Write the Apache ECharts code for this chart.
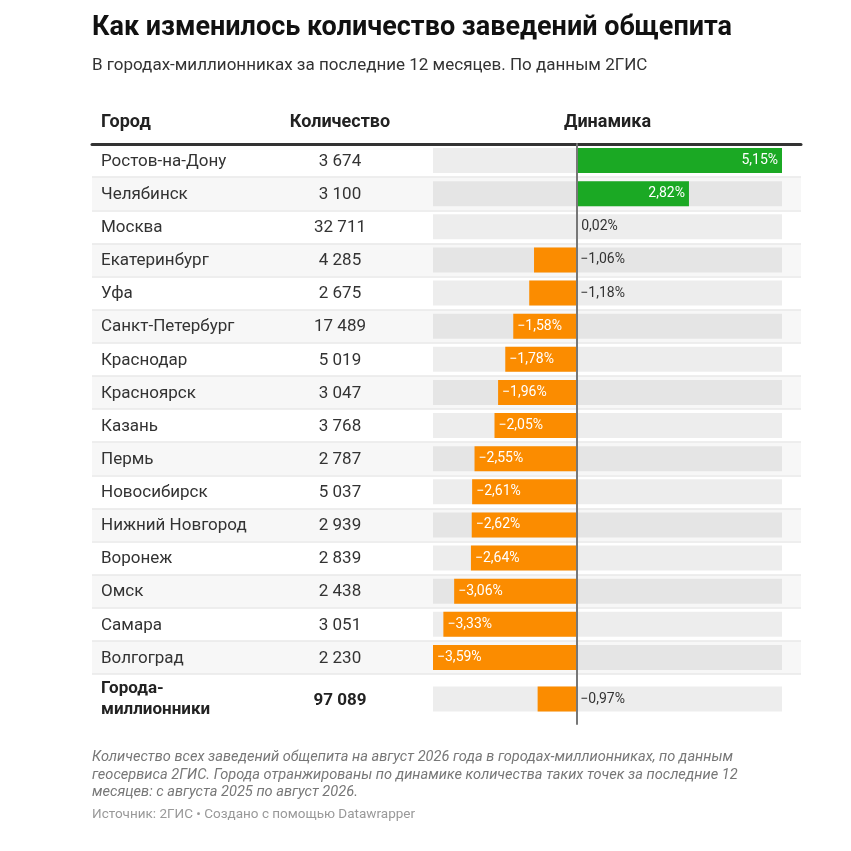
<!DOCTYPE html>
<html>
<head>
<meta charset="utf-8">
<script src="https://cdn.jsdelivr.net/npm/echarts@6/dist/echarts.min.js"></script>
<style>
    body { margin: 0; background: #fff; }
    #chart { width: 851px; height: 851px; }
</style>
</head>
<body>
<div id="chart"></div>
<script>
// данные
var cities = ["Ростов-на-Дону", "Челябинск", "Москва", "Екатеринбург", "Уфа", "Санкт-Петербург",
    "Краснодар", "Красноярск", "Казань", "Пермь", "Новосибирск", "Нижний Новгород",
    "Воронеж", "Омск", "Самара", "Волгоград"];
var counts = [3674, 3100, 32711, 4285, 2675, 17489, 5019, 3047, 3768, 2787, 5037, 2939, 2839, 2438, 3051, 2230];
var changes = [5.15, 2.82, 0.02, -1.06, -1.18, -1.58, -1.78, -1.96, -2.05, -2.55, -2.61, -2.62, -2.64, -3.06, -3.33, -3.59];
var totalName = ["Города-\nмиллионники"];
var totalCount = 97089;
var totalChange = [-0.97];
var headers = ["Город", "Количество", "Динамика"];

(function () {
    var myChart = echarts.init(document.getElementById("chart"));
    var font = "Roboto";
    var green = "#1ba924";
    var orange = "#fb8c00";

    function fmtCount(n) {
        return String(n).replace(/\B(?=(\d{3})+(?!\d))/g, " ");
    }
    function fmtPct(v) {
        return (v < 0 ? "−" : "") + Math.abs(v).toFixed(2).replace(".", ",") + "%";
    }
    // подпись внутри столбика, если помещается, иначе справа от нуля
    function barItem(v) {
        var inside = Math.abs(v) >= 1.5;
        return {
            value: v,
            itemStyle: { color: v >= 0 ? green : orange },
            label: {
                show: true,
                position: inside ? (v >= 0 ? "insideRight" : "insideLeft") : "right",
                distance: 4,
                color: inside ? "#fff" : "#333",
                fontSize: 14,
                fontFamily: font,
                formatter: function () { return fmtPct(v); }
            }
        };
    }

    var all = changes.concat(totalChange);
    var vMin = Math.min.apply(null, all);
    var vMax = Math.max.apply(null, all);

    var hidden = { show: false };
    var option = {
        animation: false,
        grid: [
            { left: 92, top: 144, width: 709, height: 530 },
            { left: 433, top: 144, width: 349, height: 530 },
            { left: 92, top: 674, width: 709, height: 50 },
            { left: 433, top: 674, width: 349, height: 50 }
        ],
        xAxis: [
            {
                gridIndex: 0, type: "value", min: 0, max: 1, position: "top",
                axisLine: { show: true, lineStyle: { color: "#333", width: 3 } },
                axisTick: hidden, axisLabel: hidden, splitLine: hidden
            },
            {
                gridIndex: 1, type: "value", min: vMin, max: vMax,
                axisLine: hidden, axisTick: hidden, axisLabel: hidden, splitLine: hidden
            },
            {
                gridIndex: 2, type: "value", min: 0, max: 1,
                axisLine: hidden, axisTick: hidden, axisLabel: hidden, splitLine: hidden
            },
            {
                gridIndex: 3, type: "value", min: vMin, max: vMax,
                axisLine: hidden, axisTick: hidden, axisLabel: hidden, splitLine: hidden
            }
        ],
        yAxis: [
            {
                gridIndex: 0, type: "category", data: cities, inverse: true,
                axisLine: hidden, axisTick: hidden,
                splitArea: { show: true, areaStyle: { color: ["#ffffff", "#f7f7f7"] } },
                splitLine: { show: true, lineStyle: { color: "#e8e8e8", width: 1.5 } },
                axisLabel: {
                    inside: true, margin: 9, interval: 0,
                    formatter: function (value, index) {
                        return "{n|" + value + "}{c|" + fmtCount(counts[index]) + "}";
                    },
                    rich: {
                        n: { width: 189, fontSize: 17, fontFamily: font, color: "#333", padding: [2, 0, 0, 0] },
                        c: { width: 100, align: "center", fontSize: 17, fontFamily: font, color: "#333", padding: [2, 0, 0, 0] }
                    }
                }
            },
            {
                gridIndex: 1, type: "category", data: cities, inverse: true, z: 5,
                axisLine: { show: true, onZero: true, lineStyle: { color: "#777", width: 2 } },
                axisTick: hidden, axisLabel: hidden, splitLine: hidden
            },
            {
                gridIndex: 2, type: "category", data: totalName,
                axisLine: hidden, axisTick: hidden, splitLine: hidden,
                axisLabel: {
                    inside: true, margin: 9, fontSize: 17, fontWeight: "bold",
                    fontFamily: font, color: "#222", lineHeight: 21, padding: [5, 0, 0, 0]
                }
            },
            {
                gridIndex: 3, type: "category", data: totalName, z: 5,
                axisLine: { show: true, onZero: true, lineStyle: { color: "#777", width: 2 } },
                axisTick: hidden, axisLabel: hidden, splitLine: hidden
            }
        ],
        series: [
            {
                name: "Динамика",
                type: "bar",
                xAxisIndex: 1,
                yAxisIndex: 1,
                barWidth: 25,
                showBackground: true,
                backgroundStyle: { color: "rgba(0,0,0,0.07)" },
                data: changes.map(barItem)
            },
            {
                name: "Динамика итого",
                type: "bar",
                xAxisIndex: 3,
                yAxisIndex: 3,
                barWidth: 25,
                showBackground: true,
                backgroundStyle: { color: "rgba(0,0,0,0.07)" },
                data: totalChange.map(barItem)
            }
        ],
        graphic: [
            {
                type: "text", x: 92, y: 28,
                style: { text: "Как изменилось количество заведений общепита", font: "bold 27px Roboto", fill: "#111", verticalAlign: "middle" }
            },
            {
                type: "text", x: 92, y: 66,
                style: { text: "В городах-миллионниках за последние 12 месяцев. По данным 2ГИС", font: "17px Roboto", fill: "#333", verticalAlign: "middle" }
            },
            {
                type: "text", x: 101, y: 122,
                style: { text: headers[0], font: "bold 18px Roboto", fill: "#222", align: "left", verticalAlign: "middle" }
            },
            {
                type: "text", x: 340, y: 122,
                style: { text: headers[1], font: "bold 18px Roboto", fill: "#222", align: "center", verticalAlign: "middle" }
            },
            {
                type: "text", x: 607.5, y: 122,
                style: { text: headers[2], font: "bold 18px Roboto", fill: "#222", align: "center", verticalAlign: "middle" }
            },
            {
                type: "text", x: 340, y: 701,
                style: { text: fmtCount(totalCount), font: "bold 17px Roboto", fill: "#222", align: "center", verticalAlign: "middle" }
            },
            {
                type: "text", x: 92, y: 749,
                style: {
                    text: "Количество всех заведений общепита на август 2026 года в городах-миллионниках, по данным\n" +
                        "геосервиса 2ГИС. Города отранжированы по динамике количества таких точек за последние 12\n" +
                        "месяцев: с августа 2025 по август 2026.",
                    font: "italic 14.6px Roboto", fill: "#777", lineHeight: 17.5, verticalAlign: "top"
                }
            },
            {
                type: "text", x: 92, y: 815,
                style: { text: "Источник: 2ГИС • Создано с помощью Datawrapper", font: "13.5px Roboto", fill: "#999", verticalAlign: "middle" }
            }
        ]
    };
    myChart.setOption(option);
    window.addEventListener("resize", function () {
        myChart.resize();
    });
})();
</script>
</body>
</html>
